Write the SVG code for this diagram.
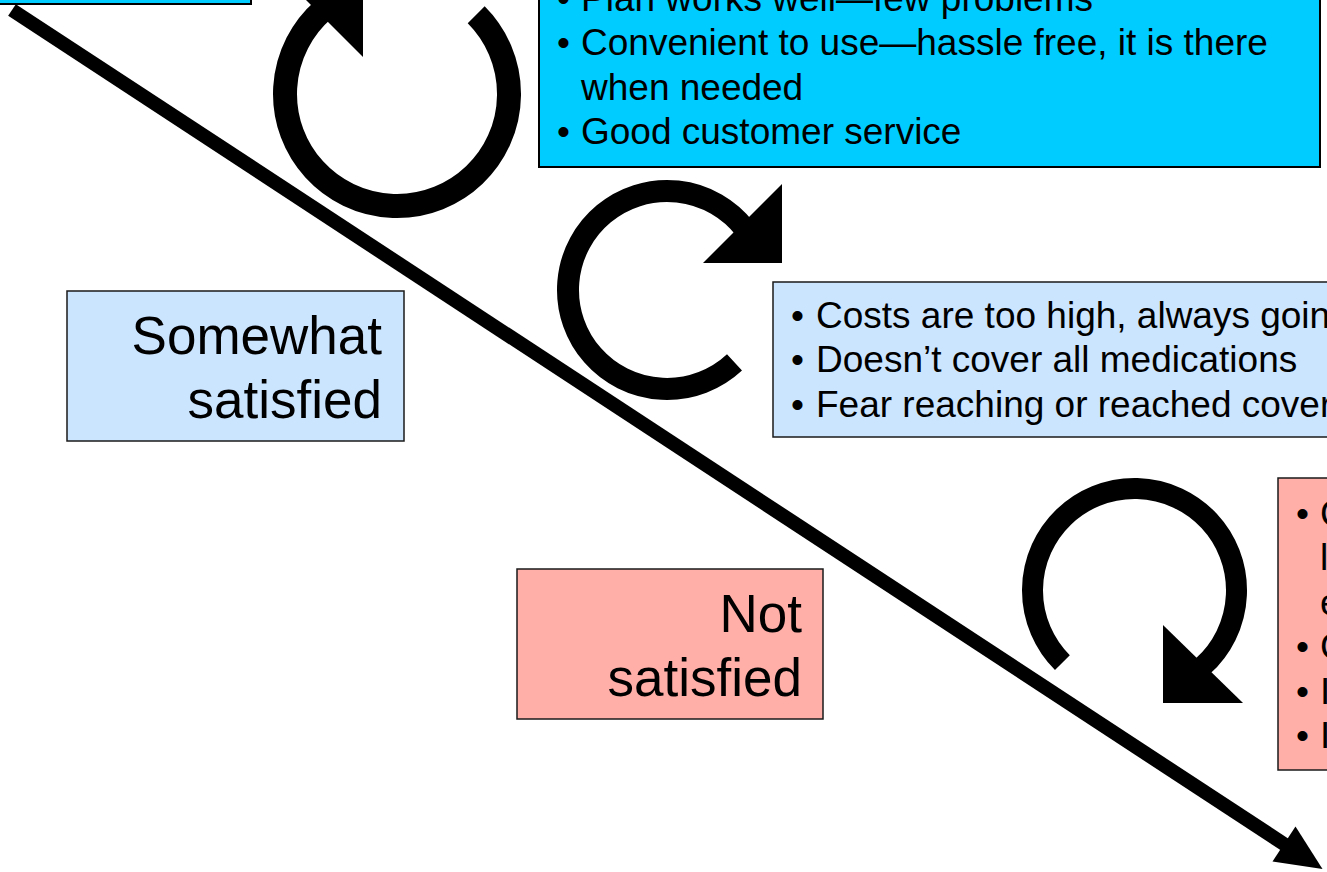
<svg xmlns="http://www.w3.org/2000/svg" width="1327" height="872" viewBox="0 0 1327 872">
  <style>
    .t { font-family: "Liberation Sans", Arial, sans-serif; font-size: 37px; fill: #000; }
    .big { font-family: "Liberation Sans", Arial, sans-serif; font-size: 53px; fill: #000; text-anchor: end; }
    .cyan { fill: #00CCFF; stroke: #000; stroke-width: 2; }
    .lblue { fill: #CCE5FF; stroke: #1a1a1a; stroke-width: 1.5; }
    .pink { fill: #FFAEA8; stroke: #1a1a1a; stroke-width: 1.5; }
    .arc { fill: none; stroke: #000; stroke-linecap: butt; }
  </style>
  <rect width="1327" height="872" fill="#fff"/>

  <g id="box-top-left">
    <rect class="cyan" x="-10" y="-100" width="261" height="104"/>
  </g>

  <g id="box-very-satisfied-reasons">
    <rect class="cyan" x="539" y="-100" width="781" height="267"/>
    <text class="t" x="557" y="11">•</text>
    <text class="t" x="581" y="11">Plan works well—few problems</text>
    <text class="t" x="557" y="55">•</text>
    <text class="t" x="581" y="55">Convenient to use—hassle free, it is there</text>
    <text class="t" x="581" y="100">when needed</text>
    <text class="t" x="557" y="144">•</text>
    <text class="t" x="581" y="144">Good customer service</text>
  </g>

  <g id="box-somewhat-satisfied">
    <rect class="lblue" x="67" y="291" width="337" height="150"/>
    <text class="big" x="382" y="354">Somewhat</text>
    <text class="big" x="382" y="418">satisfied</text>
  </g>

  <g id="box-somewhat-reasons">
    <rect class="lblue" x="773" y="282" width="600" height="155"/>
    <text class="t" x="791" y="328">•</text>
    <text class="t" x="816" y="328">Costs are too high, always goin</text>
    <text class="t" x="791" y="372">•</text>
    <text class="t" x="816" y="372">Doesn’t cover all medications</text>
    <text class="t" x="791" y="417">•</text>
    <text class="t" x="816" y="417">Fear reaching or reached cover</text>
  </g>

  <g id="box-not-satisfied">
    <rect class="pink" x="517" y="569" width="306" height="150"/>
    <text class="big" x="802" y="632">Not</text>
    <text class="big" x="802" y="696">satisfied</text>
  </g>

  <g id="box-not-reasons">
    <rect class="pink" x="1278" y="478" width="100" height="292"/>
    <text class="t" x="1296" y="526">•</text>
    <text class="t" x="1320" y="526">C</text>
    <text class="t" x="1320" y="570">l</text>
    <text class="t" x="1320" y="615">e</text>
    <text class="t" x="1296" y="659">•</text>
    <text class="t" x="1320" y="659">C</text>
    <text class="t" x="1296" y="704">•</text>
    <text class="t" x="1320" y="704">I</text>
    <text class="t" x="1296" y="748">•</text>
    <text class="t" x="1320" y="748">I</text>
  </g>

  <g id="cycle-arrow-top">
    <path class="arc" stroke-width="24" d="M476.2,14.8 A112,112 0 1 1 323.5,9.5"/>
    <polygon points="363,57 363,-34 272,-34" fill="#000"/>
  </g>

  <g id="cycle-arrow-middle">
    <path class="arc" stroke-width="22" d="M734.5,362.4 A99,99 0 1 1 745,229"/>
    <polygon points="703,263 782,263 782,184" fill="#000"/>
  </g>

  <g id="cycle-arrow-bottom">
    <path class="arc" stroke-width="21" d="M1062.4,662.6 A102,102 0 1 1 1202.7,666.3"/>
    <polygon points="1163,625 1163,703 1243,703" fill="#000"/>
  </g>

  <g id="connectors">
    <line x1="12" y1="10" x2="1290" y2="848" stroke="#000" stroke-width="14" stroke-linecap="butt"/>
    <polygon points="1322.5,869 1272.5,861.6 1295.5,826.4" fill="#000"/>
  </g>
</svg>
